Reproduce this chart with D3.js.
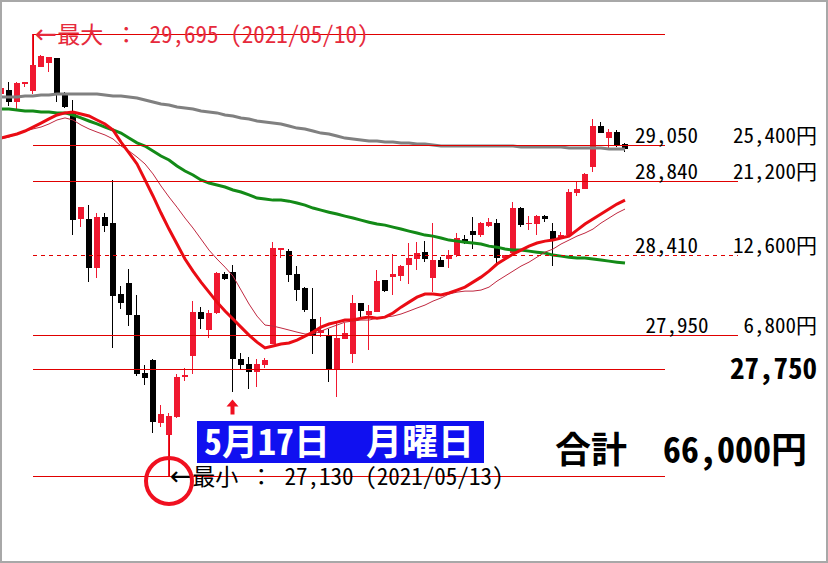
<!DOCTYPE html>
<html><head><meta charset="utf-8">
<script src="https://cdn.jsdelivr.net/npm/d3@7"></script>
<style>html,body{margin:0;padding:0;background:#fff;}svg{display:block}</style>
</head><body>
<svg id="chart" width="828" height="563"></svg>
<script>
// ---- data (prices) ----
const opens = [29345,29370,29300,29405,29365,29505,29525,29555,29345,29235,
 28620,28620,28335,28635,28600,28185,28250,28065,27730,27805,
 27440,27370,27470,27705,27825,28080,27975,28075,28300,28315,
 27810,27780,27735,27775,27895,28440,28435,28300,28220,28040,
 27960,27940,27745,27925,27840,28135,28065,28080,28265,28285,
 28290,28355,28390,28430,28280,28385,28390,28410,28505,28550,
 28530,28580,28600,28395,28425,28685,28590,28590,28640,28550,
 28505,28530,28770,28795,28925,29160,29090,29125,29055];
const highs = [29400,29415,29415,29415,29695,29575,29560,29555,29360,29310,
 28690,28700,28655,28655,28845,28235,28330,28180,27775,27810,
 27540,27495,27720,27755,28145,28110,28095,28315,28315,28355,
 27845,27820,27810,27815,28490,28455,28445,28350,28225,28220,
 28055,27985,28020,28020,28180,28135,28120,28325,28265,28420,
 28355,28480,28490,28495,28600,28400,28440,28540,28530,28635,
 28605,28625,28620,28410,28720,28690,28640,28645,28645,28600,
 28545,28795,28840,28890,29200,29185,29145,29140,29060];
const lows = [29330,29275,29260,29385,29345,29505,29475,29300,29265,28530,
 28575,28255,28280,28545,27875,28100,28000,27710,27660,27380,
 27415,27130,27465,27680,27720,27985,27930,28070,28265,27615,
 27745,27635,27645,27755,27895,28395,28255,28145,28080,27840,
 27935,27675,27590,27925,27785,28055,27860,28080,28195,28180,
 28260,28245,28325,28370,28200,28345,28335,28400,28475,28445,
 28515,28575,28365,28380,28425,28575,28555,28530,28605,28350,
 28505,28515,28755,28795,28895,29120,29025,29040,29010];
const closes = [29380,29300,29410,29415,29515,29570,29560,29345,29270,28615,
 28690,28335,28635,28580,28175,28135,28065,27720,27700,27445,
 27490,27480,27705,27715,28080,28040,28075,28310,28275,27810,
 27775,27735,27780,27805,28455,28455,28295,28210,28095,27950,
 27975,27745,27930,27960,28135,28085,28085,28260,28205,28300,
 28350,28395,28425,28390,28385,28345,28410,28510,28500,28530,
 28600,28605,28395,28410,28685,28585,28600,28640,28620,28500,
 28530,28780,28795,28880,29160,29120,29125,29045,29025];
const maShort = [29091,29103,29115,29132,29155,29178,29202,29225,29237,29242,
 29231,29219,29196,29173,29138,29068,29005,28941,28848,28755,
 28656,28563,28476,28389,28319,28255,28197,28139,28087,28041,
 27994,27948,27907,27873,27884,27896,27902,27919,27942,27965,
 27994,28012,28023,28035,28035,28046,28052,28046,28052,28076,
 28110,28139,28168,28186,28186,28180,28192,28209,28226,28255,
 28284,28319,28360,28389,28418,28441,28464,28482,28493,28499,
 28511,28522,28557,28592,28621,28650,28679,28708,28731];
const maThin = [29086,29097,29115,29132,29144,29155,29173,29196,29208,29196,
 29167,29144,29126,29109,29086,29045,29016,28981,28941,28883,
 28813,28749,28690,28627,28569,28505,28441,28389,28342,28290,
 28209,28128,28058,28006,28000,27989,27977,27965,27954,27954,
 27971,27989,28006,28023,28029,28035,28035,28046,28052,28058,
 28070,28087,28105,28122,28145,28163,28186,28197,28203,28203,
 28209,28226,28261,28290,28319,28348,28371,28400,28429,28447,
 28476,28499,28522,28540,28563,28598,28627,28656,28679];
const maMid = [29260,29260,29254,29248,29248,29242,29242,29237,29237,29225,
 29208,29190,29173,29155,29138,29120,29091,29063,29045,29016,
 28987,28964,28929,28900,28877,28848,28830,28819,28807,28790,
 28778,28761,28743,28737,28731,28731,28725,28714,28702,28685,
 28673,28661,28650,28638,28627,28615,28603,28592,28586,28574,
 28563,28551,28540,28528,28522,28511,28499,28493,28487,28482,
 28476,28464,28458,28447,28441,28441,28435,28429,28424,28412,
 28406,28400,28395,28395,28389,28383,28377,28371,28366];
const maLong = [29329,29329,29329,29335,29335,29341,29341,29347,29347,29347,
 29347,29347,29347,29341,29335,29335,29329,29324,29312,29300,
 29289,29283,29271,29266,29260,29248,29242,29237,29225,29219,
 29208,29202,29190,29184,29178,29173,29161,29149,29144,29132,
 29120,29115,29103,29091,29086,29080,29074,29074,29068,29068,
 29063,29063,29057,29057,29051,29045,29045,29045,29045,29045,
 29045,29045,29045,29045,29045,29039,29039,29039,29039,29039,
 29039,29033,29033,29033,29033,29033,29028,29028,29028];
const levelPrices = [29050, 28840, 28410, 27950];
const levelYen = [25400, 21200, 12600, 6800];
const stopPrice = 27750;
const maxDate = "2021/05/10";
const minDate = "2021/05/13";
const dayLabel = "5月17日　月曜日";
const markIndex = 29;

// ---- styles ----
const RED_CANDLE = "#f01830", LINE_RED = "#e00000";
const FONT = "'Noto Sans Mono CJK JP','Noto Sans CJK JP','DejaVu Sans Mono',monospace";
const dashedLevel = 28410;
const levelLineEnd = [665, 738, 738, 738];

const W = 828, H = 563;
const svg = d3.select("#chart");
svg.append("rect").attr("width", W).attr("height", H).attr("fill", "#fff");
const defs = svg.append("defs");
defs.append("clipPath").attr("id", "clip").append("rect")
  .attr("x", 2).attr("y", 2).attr("width", W - 4).attr("height", H - 4);

const idx = d3.range(opens.length);
const x = d3.scaleLinear().domain([0, opens.length - 1]).range([1, 625]);
const y = d3.scaleLinear().domain([27130, 29695]).range([476, 34]);
const fmt = d3.format(",");

const emW = s => { let w = 0; for (const ch of s) w += ch.charCodeAt(0) < 0x2000 ? 0.5 : 1; return w; };
function txt(g, s, px, py, fs, o = {}) {
  const t = g.append("text").attr("x", px).attr("y", py)
    .attr("font-family", FONT).attr("font-size", fs)
    .attr("font-weight", o.bold ? "bold" : "normal")
    .attr("fill", o.fill || "#000")
    .attr("text-anchor", o.anchor || "start")
    .attr("textLength", emW(s) * fs).attr("lengthAdjust", "spacingAndGlyphs")
    .style("white-space", "pre");
  if (o.arrow) {
    t.append("tspan").attr("font-family", "'DejaVu Sans'").attr("font-size", fs * 1.15).text("←");
    t.append("tspan").text(s.slice(1));
  } else t.text(s);
  return t;
}

const plot = svg.append("g").attr("clip-path", "url(#clip)");
const line = d3.line().x((d, i) => x(i)).y(d => y(d));

// candles
const cg = plot.append("g").attr("shape-rendering", "crispEdges");
idx.forEach(i => {
  const cx = Math.round(x(i));
  const up = closes[i] >= opens[i];
  const col = up ? RED_CANDLE : "#000";
  cg.append("line").attr("x1", cx - 0.5).attr("x2", cx - 0.5)
    .attr("y1", y(highs[i])).attr("y2", y(lows[i]))
    .attr("stroke", col).attr("stroke-width", 1);
  const top = y(Math.max(opens[i], closes[i])), bot = y(Math.min(opens[i], closes[i]));
  cg.append("rect").attr("x", cx - 3).attr("width", 6)
    .attr("y", top).attr("height", Math.max(1.5, bot - top)).attr("fill", col);
});

// moving averages
plot.append("path").datum(maLong).attr("d", line).attr("fill", "none")
  .attr("stroke", "#808080").attr("stroke-width", 3);
plot.append("path").datum(maMid).attr("d", line).attr("fill", "none")
  .attr("stroke", "#138a17").attr("stroke-width", 3);
plot.append("path").datum(maThin).attr("d", line).attr("fill", "none")
  .attr("stroke", "#c02840").attr("stroke-width", 1);
plot.append("path").datum(maShort).attr("d", line).attr("fill", "none")
  .attr("stroke", "#ea0c14").attr("stroke-width", 3);

// ---- annotations ----
const ann = svg.append("g");
const maxPrice = d3.max(highs), minPrice = d3.min(lows);
const maxI = highs.indexOf(maxPrice), minI = lows.indexOf(minPrice);
const hl = (p, x1, x2, dash) => {
  const l = ann.append("line")
    .attr("x1", x1).attr("x2", x2)
    .attr("y1", Math.round(y(p)) + 0.5).attr("y2", Math.round(y(p)) + 0.5)
    .attr("stroke", LINE_RED).attr("stroke-width", 1);
  if (dash) l.attr("stroke-dasharray", "4,4");
};

hl(maxPrice, 33, 665);
hl(minPrice, 33, 665);
hl(stopPrice, 33, 665);
levelPrices.forEach((p, k) => hl(p, 33, levelLineEnd[k], p === dashedLevel));

// connectors
ann.append("line").attr("x1", x(maxI) + 0.5).attr("x2", x(maxI) + 0.5)
  .attr("y1", y(maxPrice)).attr("y2", y(Math.max(opens[maxI], closes[maxI])))
  .attr("stroke", LINE_RED);
ann.append("line").attr("x1", x(minI) + 0.5).attr("x2", x(minI) + 0.5)
  .attr("y1", y(Math.min(opens[minI], closes[minI]))).attr("y2", y(minPrice))
  .attr("stroke", LINE_RED);

txt(ann, `←最大 ： ${fmt(maxPrice)} (${maxDate})`, x(maxI) + 2, y(maxPrice) + 9, 23, { fill: "#e62a3c", arrow: true });
txt(ann, `←最小 ： ${fmt(minPrice)} (${minDate})`, x(minI) + 1, y(minPrice) + 9, 23, { fill: "#000", arrow: true });

// level labels
levelPrices.forEach((p, k) => {
  const ys = `${fmt(levelYen[k])}円`;
  const yenStart = 817 - emW(ys) * 21;
  txt(ann, ys, 817, y(p) - 2, 21, { anchor: "end" });
  txt(ann, fmt(p), yenStart - 35, y(p) - 2, 21, { anchor: "end" });
});
txt(ann, fmt(stopPrice), 817, y(stopPrice) + 10, 29, { anchor: "end", bold: true });

// total
const total = d3.sum(levelYen);
txt(ann, `合計　${fmt(total)}円`, 555, 463, 36, { bold: true });

// day box
ann.append("rect").attr("x", 197).attr("y", 421).attr("width", 287).attr("height", 42).attr("fill", "#1010f0");
txt(ann, dayLabel, 204, 455, 36, { bold: true, fill: "#fff" });

// arrow under marked candle
const ax = Math.round(x(markIndex)) - 0.5, ay = y(lows[markIndex]) + 7;
ann.append("path")
  .attr("d", `M${ax},${ay} L${ax + 6},${ay + 7} L${ax + 2},${ay + 7} L${ax + 2},${ay + 15} L${ax - 2},${ay + 15} L${ax - 2},${ay + 7} L${ax - 6},${ay + 7} Z`)
  .attr("fill", "#f01020");

// circle around min
ann.append("circle").attr("cx", x(minI)).attr("cy", y(minPrice) + 5).attr("r", 23)
  .attr("fill", "none").attr("stroke", "#f01020").attr("stroke-width", 4);

// border
svg.append("rect").attr("x", 1).attr("y", 1).attr("width", W - 2).attr("height", H - 2)
  .attr("fill", "none").attr("stroke", "#a8a8a8").attr("stroke-width", 2);
</script>
</body></html>
